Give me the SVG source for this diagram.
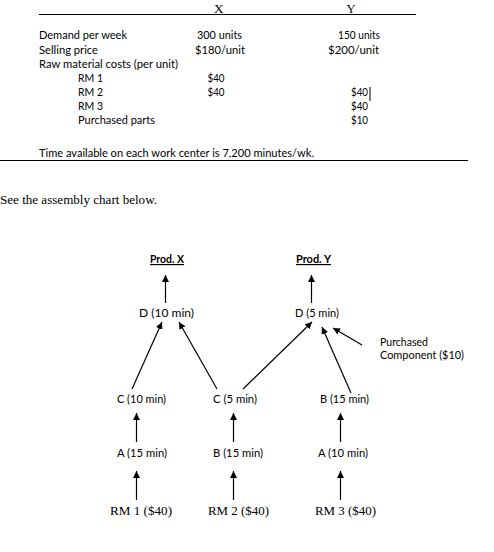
<svg xmlns="http://www.w3.org/2000/svg" width="494" height="552" viewBox="0 0 494 552">
<defs>
<marker id="ah" viewBox="0 0 10 10" refX="10" refY="5" markerWidth="7" markerHeight="7" markerUnits="userSpaceOnUse" orient="auto">
<path d="M0,0 L10,5 L0,10 z" fill="#000"/>
</marker>
<style>
.s{font-family:Lato,"Open Sans","Liberation Sans",sans-serif;font-size:11.5px;fill:#000}
.r{font-family:"Liberation Serif","Times New Roman",serif;font-size:13px;fill:#000}
.c{text-anchor:middle}
.b{font-weight:bold;text-decoration:underline}
.ln{stroke:#000;stroke-width:1;fill:none}
.ar{stroke:#000;stroke-width:1.2;fill:none;marker-end:url(#ah)}
</style>
</defs>
<rect width="494" height="552" fill="#fff"/>
<g id="table">
<line class="ln" x1="39" y1="14.5" x2="416" y2="14.5"/>
<text class="r" x="214" y="12.5" font-size="14" textLength="9.5" lengthAdjust="spacingAndGlyphs">X</text>
<text class="r" x="346.5" y="12.5" font-size="14" textLength="9" lengthAdjust="spacingAndGlyphs">Y</text>
<text class="s" x="39" y="39" textLength="88" lengthAdjust="spacingAndGlyphs">Demand per week</text>
<text class="s" x="197" y="39" textLength="45" lengthAdjust="spacingAndGlyphs">300 units</text>
<text class="s" x="338" y="39" textLength="42" lengthAdjust="spacingAndGlyphs">150 units</text>
<text class="s" x="39" y="53.5" textLength="59" lengthAdjust="spacingAndGlyphs">Selling price</text>
<text class="s" x="195" y="53.5" textLength="50" lengthAdjust="spacingAndGlyphs">$180/unit</text>
<text class="s" x="328" y="53.5" textLength="51" lengthAdjust="spacingAndGlyphs">$200/unit</text>
<text class="s" x="39" y="68" textLength="139" lengthAdjust="spacingAndGlyphs">Raw material costs (per unit)</text>
<text class="s" x="78" y="82" textLength="25" lengthAdjust="spacingAndGlyphs">RM 1</text>
<text class="s" x="207.5" y="82" textLength="17" lengthAdjust="spacingAndGlyphs">$40</text>
<text class="s" x="78" y="96" textLength="25" lengthAdjust="spacingAndGlyphs">RM 2</text>
<text class="s" x="207.5" y="96" textLength="17" lengthAdjust="spacingAndGlyphs">$40</text>
<text class="s" x="351" y="96" textLength="17" lengthAdjust="spacingAndGlyphs">$40</text>
<line class="ln" x1="370" y1="87" x2="370" y2="101"/>
<text class="s" x="78" y="110" textLength="25" lengthAdjust="spacingAndGlyphs">RM 3</text>
<text class="s" x="351" y="110" textLength="17" lengthAdjust="spacingAndGlyphs">$40</text>
<text class="s" x="78" y="124" textLength="77" lengthAdjust="spacingAndGlyphs">Purchased parts</text>
<text class="s" x="351" y="124" textLength="17" lengthAdjust="spacingAndGlyphs">$10</text>
<text class="s" x="39" y="157" textLength="275" lengthAdjust="spacingAndGlyphs">Time available on each work center is 7,200 minutes/wk.</text>
<line class="ln" x1="0" y1="160.5" x2="468" y2="160.5"/>
</g>
<text class="r" x="0" y="204" textLength="157" lengthAdjust="spacingAndGlyphs">See the assembly chart below.</text>
<g id="connectors">
<line class="ar" x1="165.5" y1="303" x2="165.5" y2="275"/>
<line class="ar" x1="311.5" y1="303" x2="311.5" y2="275"/>
<line class="ar" x1="132" y1="389" x2="162" y2="322"/>
<line class="ar" x1="217" y1="389" x2="179" y2="322"/>
<line class="ar" x1="243" y1="389" x2="312" y2="322"/>
<line class="ar" x1="351" y1="393" x2="322" y2="327"/>
<line class="ar" x1="362" y1="345" x2="333" y2="328"/>
<line class="ar" x1="136.5" y1="442" x2="136.5" y2="413"/>
<line class="ar" x1="233.5" y1="442" x2="233.5" y2="413"/>
<line class="ar" x1="340.5" y1="442" x2="340.5" y2="413"/>
<line class="ar" x1="136.5" y1="500" x2="136.5" y2="471"/>
<line class="ar" x1="233.5" y1="500" x2="233.5" y2="471"/>
<line class="ar" x1="340.5" y1="500" x2="340.5" y2="471"/>
</g>
<g id="prodX"><text class="s c b" x="167" y="263" textLength="34" lengthAdjust="spacingAndGlyphs">Prod. X</text></g>
<g id="prodY"><text class="s c b" x="313.5" y="263" textLength="35" lengthAdjust="spacingAndGlyphs">Prod. Y</text></g>
<g id="dX"><text class="s c" x="166.5" y="317" textLength="55" lengthAdjust="spacingAndGlyphs">D (10 min)</text></g>
<g id="dY"><text class="s c" x="317" y="317" textLength="44" lengthAdjust="spacingAndGlyphs">D (5 min)</text></g>
<g id="purchased"><text class="s" x="380" y="346" textLength="48" lengthAdjust="spacingAndGlyphs">Purchased</text><text class="s" x="380" y="359" textLength="84" lengthAdjust="spacingAndGlyphs">Component ($10)</text></g>
<g id="cX"><text class="s c" x="141.5" y="403" textLength="49" lengthAdjust="spacingAndGlyphs">C (10 min)</text></g>
<g id="cY"><text class="s c" x="235" y="403" textLength="44" lengthAdjust="spacingAndGlyphs">C (5 min)</text></g>
<g id="bY"><text class="s c" x="344.5" y="403" textLength="49" lengthAdjust="spacingAndGlyphs">B (15 min)</text></g>
<g id="aX"><text class="s c" x="142" y="457" textLength="50" lengthAdjust="spacingAndGlyphs">A (15 min)</text></g>
<g id="bX"><text class="s c" x="238" y="457" textLength="50" lengthAdjust="spacingAndGlyphs">B (15 min)</text></g>
<g id="aY"><text class="s c" x="343" y="457" textLength="50" lengthAdjust="spacingAndGlyphs">A (10 min)</text></g>
<g id="rm1"><text class="r c" x="141" y="515" textLength="62" lengthAdjust="spacingAndGlyphs">RM 1 ($40)</text></g>
<g id="rm2"><text class="r c" x="238.5" y="515" textLength="61" lengthAdjust="spacingAndGlyphs">RM 2 ($40)</text></g>
<g id="rm3"><text class="r c" x="345.5" y="515" textLength="61" lengthAdjust="spacingAndGlyphs">RM 3 ($40)</text></g>
</svg>
